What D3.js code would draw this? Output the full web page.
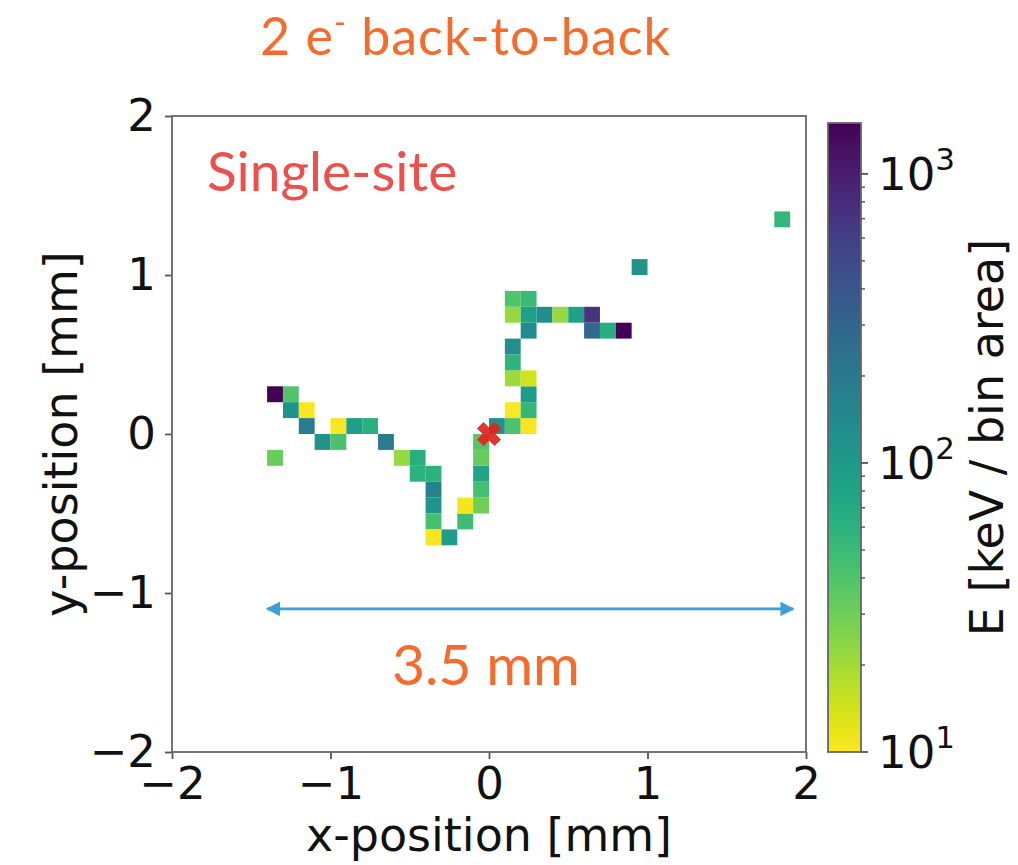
<!DOCTYPE html>
<html>
<head>
<meta charset="utf-8">
<script src="https://cdn.jsdelivr.net/npm/d3@7"></script>
<style>
  html, body { margin: 0; padding: 0; background: #fff; }
  svg { display: block; }
</style>
</head>
<body>
<svg id="chart" width="1018" height="865"></svg>
<script>
// Energy deposits of a simulated two-electron track, binned in 0.1 mm pixels.
// Each entry: left edge (mm), bottom edge (mm), deposited energy (keV / bin area).
const binX = [-1.4, -1.3, -1.3, -1.2, -1.2, -1.1, -1.0, -1.0, -0.9, -0.8,
              -0.7, -0.6, -0.5, -0.5, -0.4, -0.4, -0.4, -0.4, -0.4, -0.3,
              -0.2, -0.2, -0.1, -0.1, -0.1, -0.1, -0.1,  0.0,  0.1,  0.2,
               0.1,  0.2,  0.2,  0.1,  0.2,  0.1,  0.1,  0.2,  0.1,  0.2,
               0.3,  0.4,  0.5,  0.6,  0.6,  0.7,  0.8,  0.1,  0.2,  0.9,
               1.8, -1.4];
const binY = [ 0.2,  0.2,  0.1,  0.1,  0.0, -0.1, -0.1,  0.0,  0.0,  0.0,
              -0.1, -0.2, -0.2, -0.3, -0.3, -0.4, -0.5, -0.6, -0.7, -0.7,
              -0.6, -0.5, -0.5, -0.4, -0.3, -0.2, -0.1,  0.0,  0.0,  0.0,
               0.1,  0.1,  0.2,  0.3,  0.3,  0.4,  0.5,  0.6,  0.7,  0.7,
               0.7,  0.7,  0.7,  0.7,  0.6,  0.6,  0.6,  0.8,  0.8,  1.0,
               1.3, -0.2];
const binE = [1500,   40,  120, 10.5,  190,  115,   42, 10.5,   90,   62,
               190,   22,   63,   60,   60,  170,  115,   44, 10.5,   95,
                47,   11,   30,   45,   80,   32,   38,  120,   41, 10.5,
              10.3,   53,   95,   21,   14,   58,  125,  135,   22,   85,
               130,   22,   85,  700,  280,   68, 1450,   40,   50,  115,
                53,   32];

const binSize = 0.1;                 // mm
const axisTicks = [-2, -1, 0, 1, 2];
const energyRange = [10, 1500];      // colour scale limits (keV / bin area)
const energyMajor = [10, 100, 1000];
const energyMinor = [20, 30, 40, 50, 60, 70, 80, 90, 200, 300, 400, 500, 600, 700, 800, 900];
const vertex = [0, 0];               // reconstructed vertex (mm)
const spanArrow = [-1.40, 1.92];     // extent of the track span annotation (mm)
const spanArrowY = -1.1;

const svg = d3.select("#chart");
const axisFont = "'DejaVu Sans', sans-serif";
const noteFont = "Lato, 'Open Sans', sans-serif";

const x = d3.scaleLinear().domain([-2, 2]).range([172, 806]);
const y = d3.scaleLinear().domain([-2, 2]).range([752, 116]);
const color = d3.scaleSequentialLog(t => d3.interpolateViridis(1 - t)).domain(energyRange);

// --- pixels ---
const cells = d3.range(binE.length).map(i => ({x: binX[i], y: binY[i], e: binE[i]}));
svg.append("g").selectAll("rect").data(cells).join("rect")
  .attr("x", d => x(d.x))
  .attr("y", d => y(d.y + binSize))
  .attr("width", d => x(d.x + binSize) - x(d.x))
  .attr("height", d => y(d.y) - y(d.y + binSize))
  .attr("fill", d => color(d.e));

// --- vertex marker: filled "X" (a plus sign turned by 45 degrees) ---
const xMarker = {
  draw(ctx) {
    const a = 4.6, b = 12.4;
    const pts = [[-b,-a],[-a,-a],[-a,-b],[a,-b],[a,-a],[b,-a],[b,a],[a,a],[a,b],[-a,b],[-a,a],[-b,a]];
    ctx.moveTo(pts[0][0], pts[0][1]);
    pts.slice(1).forEach(p => ctx.lineTo(p[0], p[1]));
    ctx.closePath();
  }
};
svg.append("path")
  .attr("d", d3.symbol(xMarker)())
  .attr("transform", `translate(${x(vertex[0])},${y(vertex[1])}) rotate(45)`)
  .attr("fill", "#e3221c")
  .attr("opacity", 0.92);

// --- axes ---
const xAxis = d3.axisBottom(x).tickValues(axisTicks).tickSize(7).tickPadding(8)
  .tickFormat(d3.format("d"));
const yAxis = d3.axisLeft(y).tickValues(axisTicks).tickSize(7).tickPadding(9)
  .tickFormat(d3.format("d"));

const gx = svg.append("g").attr("transform", "translate(0,752)").call(xAxis);
const gy = svg.append("g").attr("transform", "translate(172,0)").call(yAxis);
[gx, gy].forEach(g => {
  g.select(".domain").remove();
  g.selectAll(".tick line").attr("stroke", "#555").attr("stroke-width", 1.8);
  g.selectAll(".tick text").attr("fill", "#111").style("font-family", axisFont).style("font-size", "45px");
});

// frame
svg.append("rect")
  .attr("x", x(-2)).attr("y", y(2))
  .attr("width", x(2) - x(-2)).attr("height", y(-2) - y(2))
  .attr("fill", "none").attr("stroke", "#666").attr("stroke-width", 1.8);

// axis titles
svg.append("text")
  .attr("x", (x(-2) + x(2)) / 2).attr("y", 851)
  .attr("text-anchor", "middle")
  .style("font-family", axisFont).style("font-size", "46px").attr("fill", "#111")
  .text("x-position [mm]");
svg.append("text")
  .attr("transform", `translate(77,${(y(-2) + y(2)) / 2}) rotate(-90)`)
  .attr("text-anchor", "middle")
  .style("font-family", axisFont).style("font-size", "46px").attr("fill", "#111")
  .text("y-position [mm]");

// --- colour bar ---
const cb = {x0: 828, x1: 861, top: 123, bottom: 752};
const cbScale = d3.scaleLog().domain(energyRange).range([cb.bottom, cb.top]);
const grad = svg.append("defs").append("linearGradient")
  .attr("id", "cbGrad").attr("x1", 0).attr("x2", 0).attr("y1", 1).attr("y2", 0);
d3.range(0, 1.0001, 0.02).forEach(t => {
  grad.append("stop").attr("offset", t).attr("stop-color", d3.interpolateViridis(1 - t));
});
svg.append("rect")
  .attr("x", cb.x0).attr("y", cb.top)
  .attr("width", cb.x1 - cb.x0).attr("height", cb.bottom - cb.top)
  .attr("fill", "url(#cbGrad)").attr("stroke", "#666").attr("stroke-width", 1.8);

svg.append("g").selectAll("line").data(energyMinor).join("line")
  .attr("x1", cb.x1).attr("x2", cb.x1 + 4)
  .attr("y1", d => cbScale(d)).attr("y2", d => cbScale(d))
  .attr("stroke", "#555").attr("stroke-width", 1.4);
svg.append("g").selectAll("line").data(energyMajor).join("line")
  .attr("x1", cb.x1).attr("x2", cb.x1 + 7)
  .attr("y1", d => cbScale(d)).attr("y2", d => cbScale(d))
  .attr("stroke", "#555").attr("stroke-width", 1.8);

const cbLabels = svg.append("g").selectAll("text").data(energyMajor).join("text")
  .attr("x", cb.x1 + 17).attr("y", d => cbScale(d) + 16)
  .style("font-family", axisFont).style("font-size", "45px").attr("fill", "#111");
cbLabels.append("tspan").text("10");
cbLabels.append("tspan").attr("dy", -20).style("font-size", "31px")
  .text(d => String(Math.round(Math.log10(d))));

svg.append("text")
  .attr("transform", `translate(1003,${(cb.top + cb.bottom) / 2}) rotate(-90)`)
  .attr("text-anchor", "middle")
  .style("font-family", axisFont).style("font-size", "46px").attr("fill", "#111")
  .text("E [keV / bin area]");

// --- annotations ---
const title = svg.append("text")
  .attr("x", 260).attr("y", 55)
  .style("font-family", noteFont).style("font-size", "52px")
  .style("letter-spacing", "1px").attr("fill", "#f46b2c");
title.append("tspan").text("2 e");
title.append("tspan").attr("dy", -21).style("font-size", "32px").text("-");
title.append("tspan").attr("dy", 21).text(" back-to-back");

svg.append("text")
  .attr("x", 207).attr("y", 191)
  .style("font-family", noteFont).style("font-size", "55px").attr("fill", "#ee4f4a")
  .text("Single-site");

// span arrow
const defs = svg.select("defs");
defs.append("marker").attr("id", "head")
  .attr("viewBox", "0 0 10 10").attr("refX", 9).attr("refY", 5)
  .attr("markerWidth", 5.5).attr("markerHeight", 5.5).attr("markerUnits", "strokeWidth")
  .attr("orient", "auto-start-reverse")
  .append("path").attr("d", "M0,0 L10,5 L0,10 Z").attr("fill", "#3aa0da");
svg.append("line")
  .attr("x1", x(spanArrow[0])).attr("x2", x(spanArrow[1]))
  .attr("y1", y(spanArrowY)).attr("y2", y(spanArrowY))
  .attr("stroke", "#3aa0da").attr("stroke-width", 2.6)
  .attr("marker-start", "url(#head)").attr("marker-end", "url(#head)");

svg.append("text")
  .attr("x", 486).attr("y", 685)
  .attr("text-anchor", "middle")
  .style("font-family", noteFont).style("font-size", "57px").attr("fill", "#f46b2c")
  .text("3.5 mm");
</script>
</body>
</html>
